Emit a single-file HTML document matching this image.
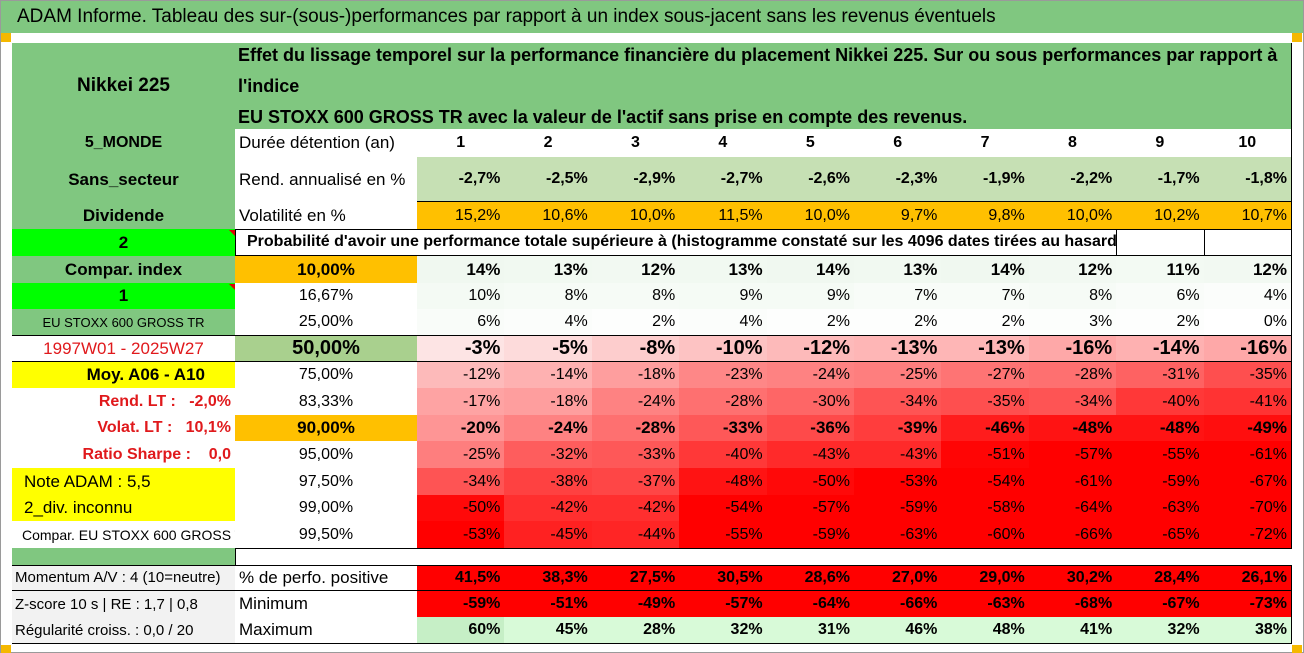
<!DOCTYPE html>
<html><head><meta charset="utf-8">
<style>
body{margin:0;width:1304px;height:653px;overflow:hidden;background:#fff;font-family:"Liberation Sans Narrow","Liberation Sans",sans-serif;}
#wrap{position:relative;width:1302px;height:651px;border:1px solid #9a9a9a;background:#fff;}
.c{position:absolute;box-sizing:border-box;border-right:1px solid #000;border-bottom:1px solid #000;display:flex;align-items:center;overflow:hidden;white-space:nowrap;font-size:16px;color:#000;padding:0 4px;}
</style></head><body>
<div id="wrap">
<div style="position:absolute;left:0;top:0;width:1302px;height:32px;background:#80c780;font-size:19px;line-height:32px;padding-left:16px;box-sizing:border-box;font-family:'Liberation Sans Narrow','Liberation Sans',sans-serif;">ADAM Informe. Tableau des sur-(sous-)performances par rapport à un index sous-jacent sans les revenus éventuels</div>
<div style="position:absolute;left:0;top:32px;width:10px;height:9px;background:#f5b800"></div>
<div style="position:absolute;left:1291px;top:32px;width:10px;height:9px;background:#f5b800"></div>
<div style="position:absolute;left:0;top:644px;width:10px;height:8px;background:#f5b800"></div>
<div style="position:absolute;left:1291px;top:644px;width:10px;height:8px;background:#f5b800"></div>
</div>
<script>
const durations=[1,2,3,4,5,6,7,8,9,10];
const rendAnnualise=[-2.7,-2.5,-2.9,-2.7,-2.6,-2.3,-1.9,-2.2,-1.7,-1.8];
const volatilite=[15.2,10.6,10.0,11.5,10.0,9.7,9.8,10.0,10.2,10.7];
const quantiles=["10,00%","16,67%","25,00%","50,00%","75,00%","83,33%","90,00%","95,00%","97,50%","99,00%","99,50%"];
const q10=[14,13,12,13,14,13,14,12,11,12];
const q1667=[10,8,8,9,9,7,7,8,6,4];
const q25=[6,4,2,4,2,2,2,3,2,0];
const q50=[-3,-5,-8,-10,-12,-13,-13,-16,-14,-16];
const q75=[-12,-14,-18,-23,-24,-25,-27,-28,-31,-35];
const q8333=[-17,-18,-24,-28,-30,-34,-35,-34,-40,-41];
const q90=[-20,-24,-28,-33,-36,-39,-46,-48,-48,-49];
const q95=[-25,-32,-33,-40,-43,-43,-51,-57,-55,-61];
const q975=[-34,-38,-37,-48,-50,-53,-54,-61,-59,-67];
const q99=[-50,-42,-42,-54,-57,-59,-58,-64,-63,-70];
const q995=[-53,-45,-44,-55,-59,-63,-60,-66,-65,-72];
const pctPositive=[41.5,38.3,27.5,30.5,28.6,27.0,29.0,30.2,28.4,26.1];
const minimum=[-59,-51,-49,-57,-64,-66,-63,-68,-67,-73];
const maximum=[60,45,28,32,31,46,48,41,32,38];

const wrap=document.getElementById('wrap');
const X0=11,XA=234,XB=416,W=87.4;
const colX=i=>XB+i*W;
const Y=[42,128,156,201,228,255,282,308,335,361,387,414,440,467,494,520,547,564,590,616,642];
const G='#80c780';
function cell(x,y,w,h,text,st,name,inter){
  const d=document.createElement('div');
  d.className='c';
  
  
  d.style.left=x+'px';d.style.top=y+'px';d.style.width=w+'px';d.style.height=h+'px';
  d.textContent=text;
  Object.assign(d.style,st||{});
  wrap.appendChild(d);return d;
}
const fmt1=v=>v.toFixed(1).replace('.',',')+'%';
const fmt0=v=>Math.round(v)+'%';
function heat(v){
  if(v>=0){const t=Math.min(1,v/15);return `rgb(${Math.round(255-16*t)},${Math.round(255-7*t)},${Math.round(255-16*t)})`;}
  const t=Math.min(1,-v/52);
  const g=Math.round(242*(1-t)+0*t);
  return `rgb(${Math.round(253+2*t)},${g},${g})`;
}
// left border
const lb=document.createElement('div');


lb.style.cssText=`position:absolute;left:${X0}px;top:${Y[0]}px;width:1px;height:${Y[20]-Y[0]}px;background:#000`;
wrap.appendChild(lb);
const tb=document.createElement('div');


tb.style.cssText=`position:absolute;left:${X0}px;top:${Y[0]}px;width:${colX(10)-X0}px;height:1px;background:#000`;
wrap.appendChild(tb);
const H=r=>Y[r+1]-Y[r];
const A=(r,t,st,n)=>cell(X0,Y[r],XA-X0+1,H(r)+1,t,Object.assign({justifyContent:'center',background:G,fontWeight:'bold'},st||{}),n);
const B=(r,t,st,n)=>cell(XA,Y[r],XB-XA+1,H(r)+1,t,Object.assign({background:'#fff'},st||{}),n);
// header
A(0,'Nikkei 225',{fontSize:'19px'},'asset-name');
cell(XA,Y[0],colX(10)-XA+1,H(0)+1,'',{background:G,fontWeight:'bold',fontSize:'18px',whiteSpace:'normal',lineHeight:'31px',paddingLeft:'3px'},'description').innerHTML="Effet du lissage temporel sur la performance financière du placement Nikkei 225. Sur ou sous performances par rapport à l'indice<br>EU STOXX 600 GROSS TR avec la valeur de l'actif sans prise en compte des revenus.";
// row1
A(1,'5_MONDE',{},'zone-label');B(1,'Durée détention (an)',{fontSize:'17px'},'duration-label');
durations.forEach((v,i)=>cell(colX(i),Y[1],W+1,H(1)+1,String(v),{justifyContent:'center',fontWeight:'bold',background:'#fff'},'duration-header'));
// row2
A(2,'Sans_secteur',{fontSize:'17px'},'sector-label');B(2,'Rend. annualisé en %',{fontSize:'17px'},'return-label');
rendAnnualise.forEach((v,i)=>cell(colX(i),Y[2],W+1,H(2)+1,fmt1(v),{justifyContent:'flex-end',fontWeight:'bold',background:'#c6e0b4',borderBottom:'2px solid #000'},'return-value'));
// row3
A(3,'Dividende',{fontSize:'17px'},'dividend-label');B(3,'Volatilité en %',{fontSize:'17px'},'volatility-label');
volatilite.forEach((v,i)=>cell(colX(i),Y[3],W+1,H(3)+1,fmt1(v),{justifyContent:'flex-end',background:'#ffc000'},'volatility-value'));
// row4
const a4=A(4,'2',{background:'#00ff00',fontSize:'17px'},'dividend-code');
cell(XA,Y[4],colX(8)-XA+1,H(4)+1,"Probabilité d'avoir une performance totale supérieure à (histogramme constaté sur les 4096 dates tirées au hasard)",{fontWeight:'bold',paddingLeft:'12px',borderBottom:'2px solid #000'},'probability-caption');
cell(colX(8),Y[4],W+1,H(4)+1,'',{borderBottom:'2px solid #000'},'empty-cell');
cell(colX(9),Y[4],W+1,H(4)+1,'',{borderBottom:'2px solid #000'},'empty-cell');
// quantile rows
const rowsData=[q10,q1667,q25,q50,q75,q8333,q90,q95,q975,q99,q995];
const leftLabels=[
 ['Compar. index',{fontSize:'17px'}],
 ['1',{background:'#00ff00',fontSize:'17px'}],
 ['EU STOXX 600 GROSS TR',{fontSize:'13px',fontWeight:'normal'}],
 ['1997W01 - 2025W27',{background:'#fff',color:'#e0191c',fontWeight:'normal',fontSize:'17px'}],
 ['Moy. A06 - A10',{background:'#ffff00',fontSize:'17px',justifyContent:'flex-end',paddingRight:'30px'}],
 ['Rend. LT :   -2,0%',{background:'#fff',color:'#e0191c',fontSize:'16px',justifyContent:'flex-end',whiteSpace:'pre'}],
 ['Volat. LT :   10,1%',{background:'#fff',color:'#e0191c',fontSize:'16px',justifyContent:'flex-end',whiteSpace:'pre'}],
 ['Ratio Sharpe :    0,0',{background:'#fff',color:'#e0191c',fontSize:'16px',justifyContent:'flex-end',whiteSpace:'pre'}],
 ['Note ADAM : 5,5',{background:'#ffff00',fontSize:'17px',justifyContent:'flex-start',fontWeight:'normal',paddingLeft:'12px'}],
 ['2_div. inconnu',{background:'#ffff00',fontSize:'17px',justifyContent:'flex-start',fontWeight:'normal',paddingLeft:'12px'}],
 ['Compar. EU STOXX 600 GROSS TR',{background:'#fff',fontSize:'14px',justifyContent:'flex-start',fontWeight:'normal',paddingLeft:'10px'}]
];
const boldRows=[0,3,6];
rowsData.forEach((arr,k)=>{
  const r=5+k;
  const thick=(k===2||k===3)?{borderBottom:'2px solid #000'}:{};
  A(r,leftLabels[k][0],Object.assign({},leftLabels[k][1],thick),'side-label');
  let bst={justifyContent:'center'};
  if(k===0||k===6)bst=Object.assign(bst,{background:'#ffc000',fontWeight:'bold',fontSize:'17px'});
  if(k===3)bst=Object.assign(bst,{background:'#a9d08e',fontWeight:'bold',fontSize:'20px'});
  B(r,quantiles[k],Object.assign(bst,thick),'quantile-label');
  arr.forEach((v,i)=>{
    const st={justifyContent:'flex-end',background:heat(v)};
    if(boldRows.includes(k)){st.fontWeight='bold';st.fontSize=k===3?'20px':'17px';}
    if(k===3)st.background=heat(v);
    Object.assign(st,thick);
    cell(colX(i),Y[r],W+1,H(r)+1,fmt0(v),st,'quantile-value');
  });
});
// gap row
cell(X0,Y[16],XA-X0+1,H(16)+1,'',{background:G,borderBottom:'1px solid #000'},'spacer');
// bottom rows
const bl=[['Momentum A/V : 4 (10=neutre)','% de perfo. positive'],['Z-score 10 s | RE : 1,7 | 0,8','Minimum'],['Régularité croiss. : 0,0 / 20','Maximum']];
bl.forEach((p,k)=>{
  const r=17+k;
  const thick=k===0?{borderBottom:'2px solid #000'}:{};
  A(r,p[0],Object.assign({background:'#f2f2f2',fontWeight:'normal',justifyContent:'flex-start',fontSize:'15px',paddingLeft:'3px'},thick),'indicator-label');
  B(r,p[1],Object.assign({fontSize:'17px'},thick),'stat-label');
});
pctPositive.forEach((v,i)=>cell(colX(i),Y[17],W+1,H(17)+1,fmt1(v),{justifyContent:'flex-end',fontWeight:'bold',background:'#ff0000',borderBottom:'2px solid #000'},'positive-share'));
minimum.forEach((v,i)=>cell(colX(i),Y[18],W+1,H(18)+1,fmt0(v),{justifyContent:'flex-end',fontWeight:'bold',background:'#ff0000'},'minimum-value'));
maximum.forEach((v,i)=>cell(colX(i),Y[19],W+1,H(19)+1,fmt0(v),{justifyContent:'flex-end',fontWeight:'bold',background:v>=55?'#c6efc6':'#d8fad8'},'maximum-value'));
// top border of bottom block
const bb=document.createElement('div');


bb.style.cssText=`position:absolute;left:${X0}px;top:${Y[17]}px;width:${colX(10)-X0}px;height:1px;background:#000`;
wrap.appendChild(bb);
// red comment triangles
[4,6].forEach(r=>{
  const t=document.createElement('div');
  
  
  t.style.cssText=`position:absolute;left:${XA-6}px;top:${Y[r]+1}px;width:0;height:0;border-left:6px solid transparent;border-top:6px solid #e00000`;
  wrap.appendChild(t);
});
</script>
</body></html>
